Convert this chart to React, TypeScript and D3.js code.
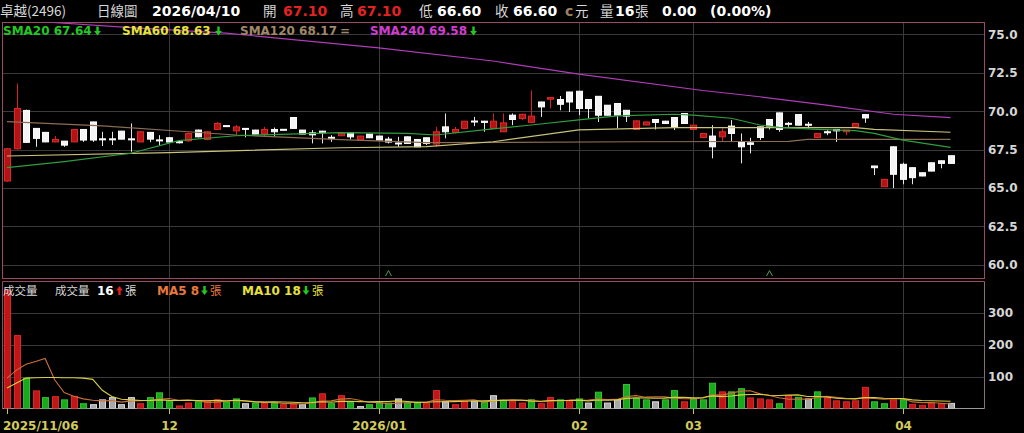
import * as d3 from "d3";
import { useEffect, useRef } from "react";

// daily candles 2025/11/06 .. 2026/04/10 (100 trading days)
const opens = [
  65.45, 67.55, 70.05, 68.88, 68.62, 68.0, 68.05, 68.0, 68.81, 69.3,
  68.2, 68.2, 68.7, 68.2, 68.0, 68.62, 68.13, 68.27, 68.01, 68.07,
  68.77, 68.16, 68.81, 69.06, 68.72, 68.88, 68.77, 68.51, 68.81, 68.82,
  69.59, 68.77, 68.59, 68.7, 68.3, 68.4, 68.59, 68.12, 68.51, 68.38,
  68.18, 67.93, 68.33, 68.16, 68.27, 67.86, 68.98, 68.62, 68.88, 69.36,
  69.35, 68.88, 68.66, 69.74, 69.52, 69.27, 70.6, 70.78, 70.76, 71.25,
  71.3, 70.76, 70.97, 70.39, 70.5, 70.06, 68.81, 69.1, 69.46, 69.35,
  69.59, 69.85, 68.81, 68.29, 68.38, 68.33, 69.03, 68.0, 67.94, 68.98,
  69.46, 69.89, 69.21, 69.78, 69.15, 68.29, 68.66, 68.81, 68.66, 68.94,
  69.78, 66.43, 65.08, 67.68, 66.54, 66.32, 65.99, 66.64, 66.77, 67.1,
];
const highs = [
  67.6, 71.8, 70.1, 68.9, 68.65, 68.38, 68.06, 68.82, 68.82, 69.32,
  68.66, 68.66, 68.72, 69.2, 68.68, 68.64, 68.44, 68.3, 68.12, 68.6,
  68.8, 68.7, 69.3, 69.07, 69.1, 68.9, 68.79, 68.98, 68.94, 68.83,
  69.6, 68.78, 68.77, 68.72, 68.44, 68.6, 68.6, 68.4, 68.52, 68.4,
  68.33, 68.33, 68.35, 68.18, 68.28, 68.98, 69.85, 68.98, 69.37, 69.63,
  69.37, 69.85, 69.85, 69.85, 69.82, 71.36, 70.62, 70.9, 70.99, 71.26,
  71.32, 70.78, 70.99, 70.4, 70.52, 70.08, 69.4, 69.32, 69.48, 69.37,
  69.6, 69.87, 69.1, 68.56, 69.09, 68.88, 69.42, 68.55, 68.27, 69.0,
  69.48, 69.91, 69.3, 69.8, 69.3, 68.56, 68.81, 68.82, 68.78, 69.22,
  69.8, 66.44, 65.58, 67.7, 66.64, 66.34, 66.0, 66.66, 66.79, 67.1,
];
const lows = [
  65.4, 67.5, 67.95, 67.68, 67.98, 67.98, 67.68, 67.98, 68.0, 68.0,
  67.73, 67.8, 68.16, 67.36, 67.98, 67.98, 67.8, 67.97, 67.9, 68.0,
  68.3, 68.1, 68.78, 69.03, 68.44, 68.3, 68.5, 68.33, 68.33, 68.8,
  68.86, 68.5, 67.9, 67.9, 68.0, 68.38, 68.16, 68.1, 68.25, 68.1,
  67.9, 67.68, 67.88, 67.66, 67.8, 67.68, 68.23, 68.55, 68.86, 69.03,
  68.66, 68.86, 68.64, 69.09, 69.41, 69.25, 69.63, 70.18, 70.06, 69.95,
  69.74, 69.53, 69.3, 69.72, 68.88, 69.3, 68.79, 69.08, 68.81, 69.18,
  68.77, 69.18, 68.79, 68.27, 66.93, 68.0, 68.0, 66.6, 67.25, 68.12,
  68.81, 68.66, 68.98, 69.07, 68.88, 68.27, 68.44, 68.0, 68.44, 68.92,
  69.24, 65.84, 65.06, 65.0, 65.24, 65.24, 65.76, 66.08, 66.28, 66.6,
];
const closes = [
  67.55, 70.18, 67.97, 68.23, 68.0, 68.16, 67.79, 68.81, 68.12, 68.12,
  68.19, 68.19, 68.18, 68.18, 68.66, 68.18, 68.12, 67.99, 68.0, 68.55,
  68.33, 68.66, 69.2, 69.04, 68.98, 68.87, 68.51, 68.81, 68.66, 68.81,
  68.88, 68.51, 68.46, 68.59, 68.29, 68.55, 68.33, 68.38, 68.27, 68.12,
  67.99, 67.92, 67.9, 67.68, 67.9, 68.66, 68.66, 68.81, 69.35, 69.35,
  69.27, 69.35, 69.24, 69.46, 69.8, 69.68, 70.28, 70.89, 70.45, 70.6,
  70.18, 70.18, 69.74, 69.74, 69.74, 69.68, 69.37, 69.3, 69.27, 69.2,
  68.98, 69.2, 69.09, 68.55, 67.68, 68.66, 68.55, 67.68, 67.84, 68.29,
  69.03, 68.81, 69.2, 69.09, 69.14, 68.55, 68.62, 68.72, 68.77, 69.2,
  69.56, 66.32, 65.56, 65.89, 65.56, 65.67, 65.78, 66.1, 66.6, 66.6,
];
const volumes = [
  370, 228, 95, 55, 34, 37, 27, 38, 15, 12,
  27, 34, 12, 34, 15, 34, 49, 23, 8, 17,
  24, 24, 27, 21, 30, 15, 17, 17, 17, 12,
  13, 12, 33, 46, 15, 40, 21, 6, 12, 17,
  17, 30, 17, 17, 17, 56, 21, 12, 23, 23,
  21, 40, 25, 23, 17, 27, 15, 34, 27, 24,
  30, 17, 51, 17, 27, 75, 31, 27, 21, 27,
  56, 21, 30, 27, 79, 52, 52, 62, 33, 30,
  27, 15, 40, 35, 30, 52, 33, 24, 21, 24,
  66, 21, 15, 27, 27, 13, 10, 17, 15, 16,
];
// u = up (red), d = down (green), n = flat (gray)
const volDir =
  "uududududn" + "nnnnuddduu" + "duuddndudu" + "undududndd" + "dndduunuun" +
  "dnduuduudu" + "dndnndddnd" + "dudddudduu" + "ududnduuuu" + "udduduuuun";

// moving averages (day index, value)
const sma20Idx = [0, 6, 13, 18, 24, 35, 42, 45, 50, 55, 60, 64, 70, 72, 76, 79, 81, 85, 89, 91, 94, 99];
const sma20Val = [66.32, 66.71, 67.26, 68.08, 68.4, 68.6, 68.56, 68.45, 68.78, 69.1, 69.43, 69.69, 69.8, 69.75, 69.54, 69.1, 68.95, 68.82, 68.73, 68.56, 68.12, 67.64];
const sma60Idx = [0, 17, 35, 44, 51, 60, 70, 89, 91, 99];
const sma60Val = [67.08, 67.3, 67.62, 67.69, 68.01, 68.78, 68.93, 68.93, 68.82, 68.63];
const sma120Idx = [0, 10, 19, 24, 35, 44, 66, 82, 84, 99];
const sma120Val = [69.32, 69.04, 68.66, 68.45, 68.15, 67.95, 68.01, 68.03, 68.17, 68.17];
const sma240Idx = [0, 4, 13, 23, 39, 51, 60, 73, 79, 86, 93, 99];
const sma240Val = [76.1, 75.81, 75.45, 75.09, 74.12, 73.27, 72.42, 71.35, 70.94, 70.4, 69.8, 69.58];

// first days of the volume averages (earlier data not on screen)
const ma5Head = [95, 120, 138, 147];
const ma10Head = [64, 80, 95, 96, 97, 97, 96, 96, 95];

const tickIdx = [0, 17, 39, 60, 72, 94];
const tickLabels = ["2025/11/06", "12", "2026/01", "02", "03", "04"];
const priceTicks = [60, 62.5, 65, 67.5, 70, 72.5, 75];
const volTicks = [100, 200, 300];
const markIdx = [40, 80];

const FONT = "'DejaVu Sans', 'Noto Sans CJK TC', sans-serif";
const CJK = "'Noto Sans CJK TC', 'DejaVu Sans', sans-serif";

const App = () => {
  const ref = useRef<SVGSVGElement | null>(null);

  useEffect(() => {
    document.body.style.margin = "0";
    document.body.style.background = "#000";
    const svg = d3.select(ref.current);
    svg.selectAll("*").remove();

    const W = 1024, H = 433;
    const left = 2.5, right = 984.5;
    const pTop = 22.5, pBot = 278.5, vTop = 281.5, vBot = 408.5;

    const n = closes.length;
    const idx = d3.range(n);
    const x = d3.scaleLinear().domain([0, 99]).range([7, 950.5]);
    const yP = d3.scaleLinear().domain([60, 75]).range([264.7, 34.45]);
    const yV = d3.scaleLinear().domain([0, 300]).range([vBot, 312.5]);
    const px = (i: number) => Math.round(x(i)) + 0.5;

    svg.append("rect").attr("width", W).attr("height", H).attr("fill", "#000");

    const defs = svg.append("defs");
    defs.append("clipPath").attr("id", "pclip").append("rect")
      .attr("x", left).attr("y", pTop).attr("width", right - left).attr("height", pBot - pTop);
    defs.append("clipPath").attr("id", "vclip").append("rect")
      .attr("x", left).attr("y", vTop).attr("width", right - left).attr("height", vBot - vTop);

    // grid
    const grid = svg.append("g").attr("stroke", "#3a3a3a").attr("stroke-width", 1);
    priceTicks.forEach((t) => {
      const y = Math.round(yP(t)) + 0.5;
      grid.append("line").attr("x1", left).attr("x2", right).attr("y1", y).attr("y2", y);
    });
    volTicks.forEach((t) => {
      const y = Math.round(yV(t)) + 0.5;
      grid.append("line").attr("x1", left).attr("x2", right).attr("y1", y).attr("y2", y);
    });
    tickIdx.slice(1).forEach((i) => {
      grid.append("line").attr("x1", px(i)).attr("x2", px(i)).attr("y1", pTop).attr("y2", pBot);
      grid.append("line").attr("x1", px(i)).attr("x2", px(i)).attr("y1", vTop).attr("y2", vBot);
    });

    // panel borders
    const border = "#9a4a64";
    svg.append("rect").attr("x", left).attr("y", pTop).attr("width", right - left)
      .attr("height", pBot - pTop).attr("fill", "none").attr("stroke", border);
    svg.append("line").attr("x1", left).attr("x2", right).attr("y1", vTop).attr("y2", vTop).attr("stroke", border);
    svg.append("line").attr("x1", right).attr("x2", right).attr("y1", vTop).attr("y2", vBot).attr("stroke", "#8a6a78");
    svg.append("line").attr("x1", left).attr("x2", left).attr("y1", vTop).attr("y2", vBot).attr("stroke", border);
    svg.append("line").attr("x1", left).attr("x2", right).attr("y1", vBot).attr("y2", vBot).attr("stroke", "#9a9a9a");

    // candles
    const cg = svg.append("g").attr("clip-path", "url(#pclip)");
    const up = (i: number) => closes[i] > opens[i];
    cg.selectAll(".wick").data(idx).enter().append("line")
      .attr("x1", (i) => px(i)).attr("x2", (i) => px(i))
      .attr("y1", (i) => yP(highs[i])).attr("y2", (i) => yP(lows[i]))
      .attr("stroke", (i) => (up(i) ? "#d82020" : "#e6e6e6"));
    cg.selectAll(".body").data(idx).enter().append("rect")
      .attr("x", (i) => px(i) - 3)
      .attr("y", (i) => yP(Math.max(opens[i], closes[i])))
      .attr("width", 6)
      .attr("height", (i) => Math.max(1, yP(Math.min(opens[i], closes[i])) - yP(Math.max(opens[i], closes[i]))))
      .attr("fill", (i) => (up(i) ? "#b01414" : "#f4f4f4"))
      .attr("stroke", (i) => (up(i) ? "#e02828" : "#ffffff"))
      .attr("stroke-width", 1);

    // SMA lines
    const smaLine = (ids: number[], vals: number[], color: string) => {
      const line = d3.line<number>().x((_, k) => x(ids[k])).y((v) => yP(v));
      cg.append("path").attr("d", line(vals)).attr("fill", "none")
        .attr("stroke", color).attr("stroke-width", 1.2);
    };
    smaLine(sma120Idx, sma120Val, "#8c6e54");
    smaLine(sma60Idx, sma60Val, "#c8c27a");
    smaLine(sma20Idx, sma20Val, "#2e9e3e");
    smaLine(sma240Idx, sma240Val, "#b03cb8");

    // small markers at the bottom of the price panel
    markIdx.forEach((i) => {
      const cx = px(i);
      svg.append("path").attr("d", `M${cx - 3},276 L${cx},270.5 L${cx + 3},276`)
        .attr("fill", "none").attr("stroke", "#4f9a55").attr("stroke-width", 1);
    });

    // volume bars
    const vg = svg.append("g").attr("clip-path", "url(#vclip)");
    const vFill = { u: "#c01616", d: "#1ca81c", n: "#a8a8a8" } as Record<string, string>;
    const vStroke = { u: "#d82828", d: "#30c030", n: "#d8d8d8" } as Record<string, string>;
    vg.selectAll(".vbar").data(idx).enter().append("rect")
      .attr("x", (i) => px(i) - 3)
      .attr("y", (i) => yV(volumes[i]))
      .attr("width", 6)
      .attr("height", (i) => vBot - yV(volumes[i]))
      .attr("fill", (i) => vFill[volDir[i]])
      .attr("stroke", (i) => vStroke[volDir[i]])
      .attr("stroke-width", 1);

    // volume moving averages
    const ma = (len: number, head: number[]) =>
      idx.map((i) => (i < head.length ? head[i] : d3.mean(volumes.slice(i - len + 1, i + 1)) ?? 0));
    const vLine = d3.line<number>().x((_, i) => x(i)).y((v) => yV(v));
    vg.append("path").attr("d", vLine(ma(5, ma5Head))).attr("fill", "none")
      .attr("stroke", "#c8703a").attr("stroke-width", 1.1);
    vg.append("path").attr("d", vLine(ma(10, ma10Head))).attr("fill", "none")
      .attr("stroke", "#d8d040").attr("stroke-width", 1.1);

    // axes labels
    const lab = svg.append("g").attr("font-family", FONT).attr("font-weight", "bold")
      .attr("font-size", 12).attr("fill", "#d6d6d6");
    priceTicks.forEach((t) => {
      lab.append("text").attr("x", 988).attr("y", yP(t) + 4.5).text(t.toFixed(1));
    });
    volTicks.forEach((t) => {
      lab.append("text").attr("x", 988).attr("y", yV(t) + 4.5).text(String(t));
    });
    tickIdx.forEach((i, k) => {
      svg.append("line").attr("x1", px(i)).attr("x2", px(i)).attr("y1", vBot).attr("y2", 414)
        .attr("stroke", "#c8c060");
      svg.append("text").attr("x", k === 0 ? 3 : px(i)).attr("y", 430)
        .attr("text-anchor", k === 0 ? "start" : "middle")
        .attr("font-family", FONT).attr("font-weight", "bold").attr("font-size", 12)
        .attr("fill", "#d2ca5a").text(tickLabels[k]);
    });

    // helpers for the header and legends
    const txt = (s: string, xx: number, yy: number, color: string, size: number, bold: boolean, fam = FONT) =>
      svg.append("text").attr("x", xx).attr("y", yy).attr("fill", color)
        .attr("font-size", size).attr("font-weight", bold ? "bold" : "normal")
        .attr("font-family", fam).text(s);
    const arrow = (cx: number, yTop: number, down: boolean, color: string) => {
      const d = down
        ? `M${cx - 1.2},${yTop} h2.4 v4.5 h2.2 l-3.4,4.5 l-3.4,-4.5 h2.2 z`
        : `M${cx - 1.2},${yTop + 9} h2.4 v-4.5 h2.2 l-3.4,-4.5 l-3.4,4.5 h2.2 z`;
      svg.append("path").attr("d", d).attr("fill", color);
    };

    // header
    const hy = 15.5, gray = "#d8d8d8", red = "#e32222";
    txt("卓越(2496)", 0, hy, gray, 13.5, false, CJK);
    txt("日線圖", 97, hy, gray, 13.5, false, CJK);
    txt("2026/04/10", 152, hy, "#ffffff", 14, true);
    txt("開", 263, hy, gray, 13.5, false, CJK);
    txt("67.10", 283, hy, red, 14, true);
    txt("高", 340, hy, gray, 13.5, false, CJK);
    txt("67.10", 357, hy, red, 14, true);
    txt("低", 419, hy, gray, 13.5, false, CJK);
    txt("66.60", 437, hy, "#ffffff", 14, true);
    txt("收", 495, hy, gray, 13.5, false, CJK);
    txt("66.60", 513, hy, "#ffffff", 14, true);
    txt("c", 565, hy, "#a08060", 14, true);
    txt("元", 575, hy, gray, 13.5, false, CJK);
    txt("量", 600, hy, gray, 13.5, false, CJK);
    txt("16", 615, hy, "#ffffff", 14, true);
    txt("張", 635, hy, gray, 13.5, false, CJK);
    txt("0.00", 662, hy, "#ffffff", 14, true);
    txt("(0.00%)", 710, hy, "#ffffff", 14, true);

    // SMA legend
    const ly = 35;
    const green = "#22c822";
    txt("SMA20 67.64", 3, ly, green, 12, true);
    arrow(97.5, 26.5, true, green);
    txt("SMA60 68.63", 122, ly, "#e6e23c", 12, true);
    arrow(218.5, 26.5, true, green);
    txt("SMA120 68.17", 240, ly, "#a08868", 12, true);
    txt("=", 340, ly, "#a08868", 12, true);
    txt("SMA240 69.58", 370, ly, "#d23cd2", 12, true);
    arrow(473.5, 26.5, true, green);

    // volume legend
    const vy = 295;
    txt("成交量", 3, vy, gray, 11.5, false, CJK);
    txt("成交量", 55, vy, gray, 11.5, false, CJK);
    txt("16", 97, vy, "#ffffff", 12, true);
    arrow(119.5, 286, false, "#e02020");
    txt("張", 125, vy, gray, 11.5, false, CJK);
    txt("MA5 8", 157, vy, "#e8783c", 12, true);
    arrow(204.5, 286, true, green);
    txt("張", 210, vy, "#e8783c", 11.5, false, CJK);
    txt("MA10 18", 242, vy, "#e6e03c", 12, true);
    arrow(306, 286, true, green);
    txt("張", 312, vy, "#e6e03c", 11.5, false, CJK);
  }, []);

  return (
    <svg
      ref={ref}
      width={1024}
      height={433}
      style={{ position: "absolute", left: 0, top: 0, display: "block" }}
    />
  );
};

export default App;
